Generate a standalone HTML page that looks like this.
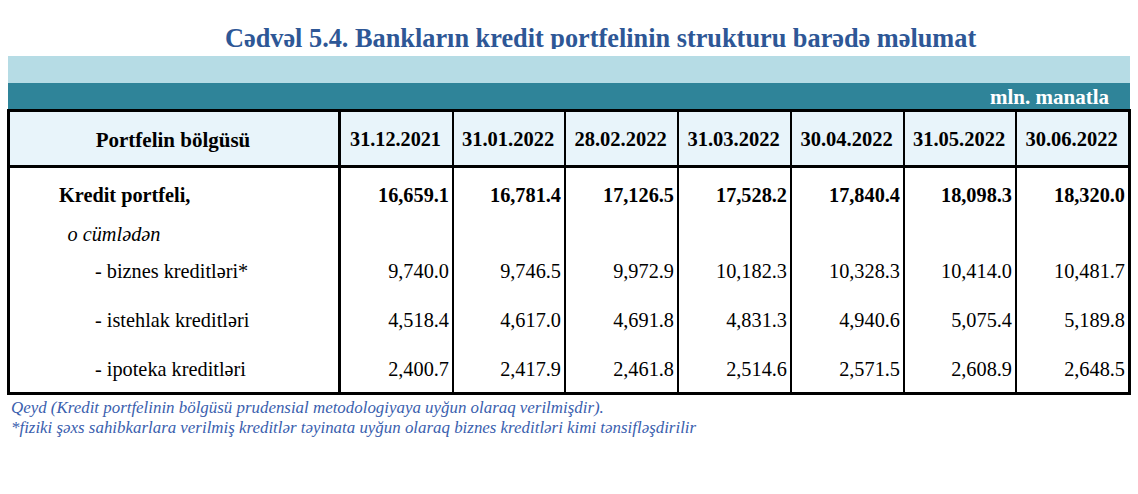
<!DOCTYPE html>
<html><head><meta charset="utf-8"><style>
html,body{margin:0;padding:0;background:#fff;}
body{width:1138px;height:494px;position:relative;overflow:hidden;font-family:"Liberation Serif",serif;color:#000;}
.a{position:absolute;white-space:nowrap;line-height:1;}
.r{text-align:right;}
.c{text-align:center;}
.bk{position:absolute;background:#000;}
</style></head><body>
<div class="a" style="left:0;top:0;width:1138px;height:49px;overflow:hidden;line-height:normal"><div class="a" style="left:225px;top:25.97px;font-size:26.3px;font-weight:bold;color:#2E5796;line-height:1">Cədvəl 5.4. Bankların kredit portfelinin strukturu barədə məlumat</div></div>
<div class="a" style="left:8px;top:56px;width:1122px;height:27px;background:#B6DCE5"></div>
<div class="a" style="left:8px;top:83px;width:1122px;height:26px;background:#2F8499"></div>
<div class="a" style="left:990px;top:87.41px;font-size:21px;font-weight:bold;color:#fff">mln. manatla</div>
<div class="a" style="left:10px;top:112px;width:1118px;height:53px;background:#E8F4FA"></div>
<div class="bk" style="left:7px;top:109px;width:1124px;height:3px"></div>
<div class="bk" style="left:7px;top:165px;width:1124px;height:3px"></div>
<div class="bk" style="left:7px;top:392px;width:1124px;height:3px"></div>
<div class="bk" style="left:7px;top:109px;width:3px;height:286px"></div>
<div class="bk" style="left:338px;top:109px;width:3px;height:286px"></div>
<div class="bk" style="left:452px;top:109px;width:2px;height:286px"></div>
<div class="bk" style="left:564px;top:109px;width:2px;height:286px"></div>
<div class="bk" style="left:677px;top:109px;width:2px;height:286px"></div>
<div class="bk" style="left:790px;top:109px;width:2px;height:286px"></div>
<div class="bk" style="left:903px;top:109px;width:2px;height:286px"></div>
<div class="bk" style="left:1015px;top:109px;width:2px;height:286px"></div>
<div class="bk" style="left:1128px;top:109px;width:3px;height:286px"></div>
<div class="a c" style="left:9px;width:328px;top:129.81px;font-size:21px;font-weight:bold">Portfelin bölgüsü</div>
<div class="a c" style="left:340px;width:111px;top:128.88px;font-size:20.2px;font-weight:bold">31.12.2021</div>
<div class="a c" style="left:453px;width:110px;top:128.63px;font-size:20.5px;font-weight:bold">31.01.2022</div>
<div class="a c" style="left:565px;width:111px;top:128.63px;font-size:20.5px;font-weight:bold">28.02.2022</div>
<div class="a c" style="left:678px;width:111px;top:128.63px;font-size:20.5px;font-weight:bold">31.03.2022</div>
<div class="a c" style="left:791px;width:111px;top:128.63px;font-size:20.5px;font-weight:bold">30.04.2022</div>
<div class="a c" style="left:904px;width:110px;top:128.63px;font-size:20.5px;font-weight:bold">31.05.2022</div>
<div class="a c" style="left:1016px;width:111px;top:128.63px;font-size:20.5px;font-weight:bold">30.06.2022</div>
<div class="a" style="left:59px;top:184.50px;font-size:20.3px;font-weight:bold">Kredit portfeli,</div>
<div class="a r" style="left:302px;width:147px;top:184.50px;font-size:20.3px;font-weight:bold">16,659.1</div>
<div class="a r" style="left:414px;width:147px;top:184.50px;font-size:20.3px;font-weight:bold">16,781.4</div>
<div class="a r" style="left:527px;width:147px;top:184.50px;font-size:20.3px;font-weight:bold">17,126.5</div>
<div class="a r" style="left:640px;width:147px;top:184.50px;font-size:20.3px;font-weight:bold">17,528.2</div>
<div class="a r" style="left:753px;width:147px;top:184.50px;font-size:20.3px;font-weight:bold">17,840.4</div>
<div class="a r" style="left:865px;width:147px;top:184.50px;font-size:20.3px;font-weight:bold">18,098.3</div>
<div class="a r" style="left:978px;width:147px;top:184.50px;font-size:20.3px;font-weight:bold">18,320.0</div>
<div class="a" style="left:67.5px;top:223.50px;font-size:20.3px;font-style:italic">o cümlədən</div>
<div class="a" style="left:95px;top:260.50px;font-size:20.3px;">- biznes kreditləri*</div>
<div class="a r" style="left:302px;width:147px;top:260.50px;font-size:20.3px;">9,740.0</div>
<div class="a r" style="left:414px;width:147px;top:260.50px;font-size:20.3px;">9,746.5</div>
<div class="a r" style="left:527px;width:147px;top:260.50px;font-size:20.3px;">9,972.9</div>
<div class="a r" style="left:640px;width:147px;top:260.50px;font-size:20.3px;">10,182.3</div>
<div class="a r" style="left:753px;width:147px;top:260.50px;font-size:20.3px;">10,328.3</div>
<div class="a r" style="left:865px;width:147px;top:260.50px;font-size:20.3px;">10,414.0</div>
<div class="a r" style="left:978px;width:147px;top:260.50px;font-size:20.3px;">10,481.7</div>
<div class="a" style="left:95px;top:309.70px;font-size:20.3px;">- istehlak kreditləri</div>
<div class="a r" style="left:302px;width:147px;top:309.70px;font-size:20.3px;">4,518.4</div>
<div class="a r" style="left:414px;width:147px;top:309.70px;font-size:20.3px;">4,617.0</div>
<div class="a r" style="left:527px;width:147px;top:309.70px;font-size:20.3px;">4,691.8</div>
<div class="a r" style="left:640px;width:147px;top:309.70px;font-size:20.3px;">4,831.3</div>
<div class="a r" style="left:753px;width:147px;top:309.70px;font-size:20.3px;">4,940.6</div>
<div class="a r" style="left:865px;width:147px;top:309.70px;font-size:20.3px;">5,075.4</div>
<div class="a r" style="left:978px;width:147px;top:309.70px;font-size:20.3px;">5,189.8</div>
<div class="a" style="left:95px;top:358.80px;font-size:20.3px;">- ipoteka kreditləri</div>
<div class="a r" style="left:302px;width:147px;top:358.80px;font-size:20.3px;">2,400.7</div>
<div class="a r" style="left:414px;width:147px;top:358.80px;font-size:20.3px;">2,417.9</div>
<div class="a r" style="left:527px;width:147px;top:358.80px;font-size:20.3px;">2,461.8</div>
<div class="a r" style="left:640px;width:147px;top:358.80px;font-size:20.3px;">2,514.6</div>
<div class="a r" style="left:753px;width:147px;top:358.80px;font-size:20.3px;">2,571.5</div>
<div class="a r" style="left:865px;width:147px;top:358.80px;font-size:20.3px;">2,608.9</div>
<div class="a r" style="left:978px;width:147px;top:358.80px;font-size:20.3px;">2,648.5</div>
<div class="a" style="left:11px;top:399.95px;font-size:16.9px;font-style:italic;color:#3A60AE">Qeyd (Kredit portfelinin bölgüsü prudensial metodologiyaya uyğun olaraq verilmişdir).</div>
<div class="a" style="left:11px;top:420.25px;font-size:16.9px;font-style:italic;color:#3A60AE">*fiziki şəxs sahibkarlara verilmiş kreditlər təyinata uyğun olaraq biznes kreditləri kimi tənsifləşdirilir</div>
</body></html>
